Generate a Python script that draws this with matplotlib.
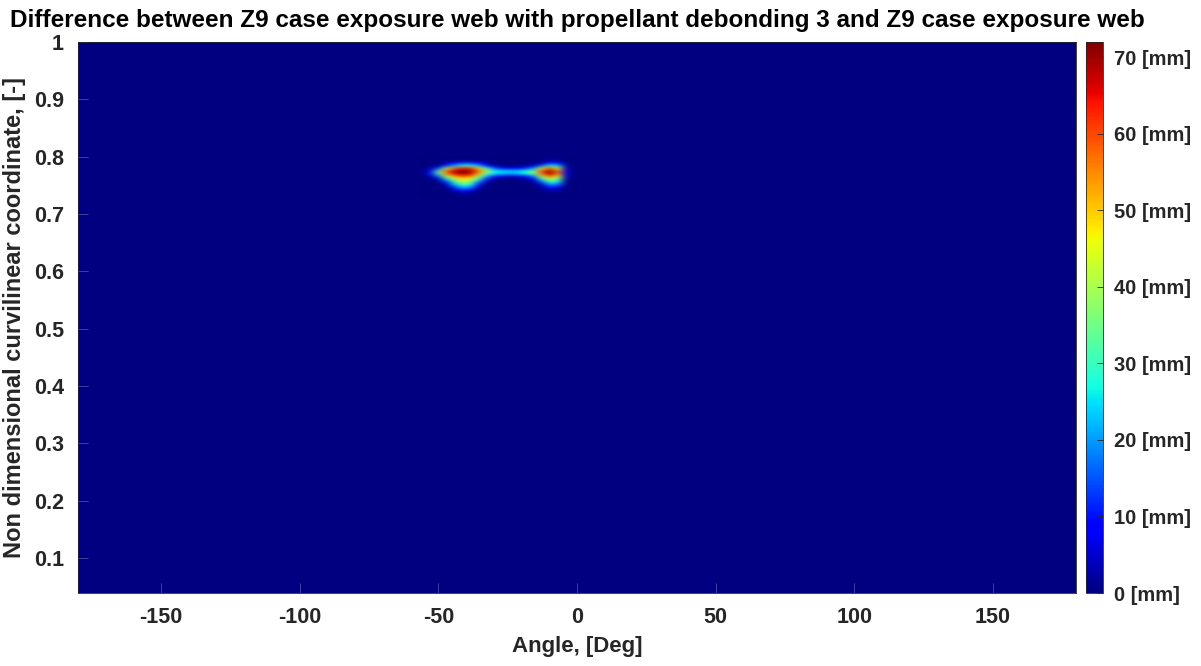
import numpy as np
import matplotlib
matplotlib.use("Agg")
import matplotlib.pyplot as plt
from matplotlib.ticker import FuncFormatter

plt.rcParams['font.family'] = ['Liberation Sans', 'DejaVu Sans']
plt.rcParams['font.weight'] = 'bold'
plt.rcParams['axes.unicode_minus'] = False

# === Difference field around the debonded zone (mm) ===
# everything outside this patch is zero
angles = [-57, -54, -51, -48, -45, -42, -39, -36, -33, -30,
          -27, -24, -21, -18, -15, -12, -9, -6, -3, 0]
coords = [0.730, 0.735, 0.740, 0.745, 0.750, 0.755, 0.760, 0.765,
          0.770, 0.775, 0.780, 0.785, 0.790, 0.795, 0.800]

diff_mm = [
    [0, 0, 0, 0, 0, 0, 0, 0, 0, 0, 0, 0, 0, 0, 0, 0, 0, 0, 0, 0],           # 0.730
    [0, 0, 0, 0, 0, 4, 2, 0, 0, 0, 0, 0, 0, 0, 0, 0, 0, 0, 0, 0],           # 0.735
    [0, 0, 0, 0, 5, 12, 8, 0, 0, 0, 0, 0, 0, 0, 0, 0, 4, 3, 0, 0],          # 0.740
    [0, 0, 0, 0, 12, 22, 18, 4, 0, 0, 0, 0, 0, 0, 0, 2, 10, 7, 0, 0],       # 0.745
    [0, 0, 0, 5, 22, 32, 28, 10, 0, 0, 0, 0, 0, 0, 0, 6, 20, 16, 0, 0],     # 0.750
    [0, 0, 0, 12, 30, 40, 36, 18, 3, 0, 0, 0, 0, 0, 2, 15, 30, 25, 0, 0],   # 0.755
    [0, 0, 5, 25, 40, 48, 45, 30, 10, 2, 0, 0, 0, 3, 8, 28, 42, 34, 2, 0],  # 0.760
    [0, 3, 16, 40, 52, 58, 55, 40, 22, 10, 6, 4, 5, 10, 18, 42, 58, 45, 4, 0],    # 0.765
    [0, 10, 32, 55, 66, 70, 66, 52, 35, 24, 22, 20, 22, 26, 35, 58, 70, 55, 6, 0],  # 0.770
    [0, 8, 32, 58, 70, 72, 70, 58, 40, 26, 25, 24, 24, 28, 35, 60, 72, 55, 6, 0],   # 0.775
    [0, 2, 14, 40, 58, 64, 62, 50, 30, 15, 10, 8, 8, 12, 20, 45, 60, 45, 4, 0],     # 0.780
    [0, 0, 3, 12, 22, 28, 28, 22, 10, 3, 0, 0, 0, 2, 5, 15, 28, 22, 2, 0],  # 0.785
    [0, 0, 0, 3, 8, 12, 12, 8, 3, 0, 0, 0, 0, 0, 0, 3, 10, 10, 0, 0],       # 0.790
    [0, 0, 0, 0, 0, 0, 0, 0, 0, 0, 0, 0, 0, 0, 0, 0, 2, 3, 0, 0],           # 0.795
    [0, 0, 0, 0, 0, 0, 0, 0, 0, 0, 0, 0, 0, 0, 0, 0, 0, 0, 0, 0],           # 0.800
]

x_ticks = [-150, -100, -50, 0, 50, 100, 150]
y_ticks = [0.1, 0.2, 0.3, 0.4, 0.5, 0.6, 0.7, 0.8, 0.9, 1.0]
cbar_ticks = [0, 10, 20, 30, 40, 50, 60, 70]
vmax = 72

cmap = plt.get_cmap('jet')
Z = np.array(diff_mm, dtype=float)

fig = plt.figure(figsize=(12.01, 6.66), dpi=100)
ax = fig.add_axes([0.0649, 0.1096, 0.8310, 0.8273])
cax = fig.add_axes([0.9042, 0.1096, 0.0142, 0.8273])

ax.set_facecolor(cmap(0.0))
im = ax.imshow(Z, origin='lower', aspect='auto', cmap=cmap, vmin=0, vmax=vmax,
               interpolation='bicubic',
               extent=[angles[0], angles[-1], coords[0], coords[-1]])
ax.set_xlim(-180, 180)
ax.set_ylim(0.039, 1.0)

ax.set_xticks(x_ticks)
ax.set_yticks(y_ticks)
ax.yaxis.set_major_formatter(FuncFormatter(lambda v, p: f"{v:g}"))
ax.tick_params(direction='in', length=7, width=0.6, color='#4a4aa0',
               labelcolor='#262626', labelsize=15.5, pad=10)
for s in ax.spines.values():
    s.set_color('#262626')
    s.set_linewidth(0.6)

ax.set_xlabel('Angle, [Deg]', fontsize=16, fontweight='bold',
              color='#262626', labelpad=6)
ax.set_ylabel('Non dimensional curvilinear coordinate, [-]', fontsize=17,
              fontweight='bold', color='#262626', labelpad=6)
ax.set_title('Difference between Z9 case exposure web with propellant '
             'debonding 3 and Z9 case exposure web',
             fontsize=17.5, fontweight='bold', color='black', pad=11)

# === Colorbar ===
cb = fig.colorbar(im, cax=cax, ticks=cbar_ticks)
cb.ax.yaxis.set_major_formatter(FuncFormatter(lambda v, p: f"{v:.0f} [mm]"))
cb.ax.tick_params(direction='in', length=4, width=0.6, color='#262626',
                  labelcolor='#262626', labelsize=14.5, pad=8)
cb.outline.set_linewidth(0.6)
cb.outline.set_edgecolor('#262626')

fig.savefig('out.png', dpi=100)
